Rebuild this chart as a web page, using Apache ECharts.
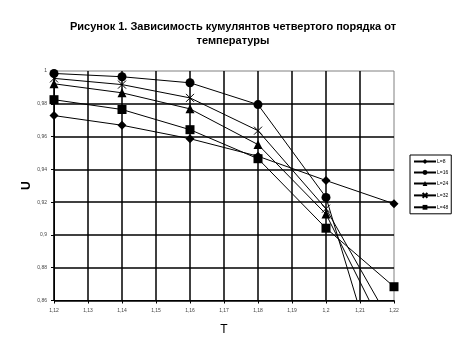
<!DOCTYPE html>
<html>
<head>
<meta charset="utf-8">
<script src="https://cdn.jsdelivr.net/npm/echarts@6/dist/echarts.min.js"></script>
<style>html,body{margin:0;padding:0;background:#fff}#c{width:466px;height:356px}</style>
</head>
<body>
<div id="c"></div>
<script>
const temps = [1.12, 1.14, 1.16, 1.18, 1.20, 1.22];
const seriesNames = ['L=8', 'L=16', 'L=24', 'L=32', 'L=48'];
const uL8  = [0.9728, 0.9669, 0.9587, 0.9480, 0.9332, 0.9190];
const uL16 = [0.9985, 0.9965, 0.9928, 0.9795, 0.9229, 0.7850];
const uL24 = [0.9922, 0.9867, 0.9769, 0.9551, 0.9127, 0.8300];
const uL32 = [0.9955, 0.9917, 0.9836, 0.9636, 0.9160, 0.8430];
const uL48 = [0.9825, 0.9765, 0.9642, 0.9465, 0.9041, 0.8684];
const titleText = 'Рисунок 1. Зависимость кумулянтов четвертого порядка от\nтемпературы';

const values = [uL8, uL16, uL24, uL32, uL48];
const symbols = ['diamond', 'circle', 'triangle', 'path://M0,0L10,10M10,0L0,10', 'rect'];
const sizes = [9, 9, 9, 8, 9];
const fmt = v => String(+v.toFixed(2)).replace('.', ',');

const chart = echarts.init(document.getElementById('c'), null, {renderer: 'canvas'});
chart.setOption({
  animation: false,
  backgroundColor: '#fff',
  title: {
    text: titleText,
    left: 'center',
    top: 15,
    textStyle: {fontFamily: 'Liberation Sans, Arial', fontSize: 11, fontWeight: 'bold', color: '#000', lineHeight: 14}
  },
  legend: {
    orient: 'vertical',
    left: 410,
    top: 155,
    padding: [4, 3, 4, 3],
    itemWidth: 22,
    itemHeight: 6,
    itemGap: 6,
    borderColor: '#000',
    borderWidth: 1,
    data: seriesNames,
    textStyle: {fontFamily: 'Liberation Sans, Arial', fontSize: 5, color: '#000', padding: [0, 0, 0, -4]}
  },
  grid: {
    left: 54, right: 72, top: 71, bottom: 55.5,
    show: true, borderColor: '#808080', borderWidth: 1, containLabel: false
  },
  xAxis: {
    type: 'value', min: 1.12, max: 1.22, interval: 0.01,
    name: 'T', nameLocation: 'middle', nameGap: 23, nameMoveOverlap: false,
    nameTextStyle: {fontFamily: 'Liberation Sans, Arial', fontSize: 12, color: '#000'},
    axisLine: {show: true, lineStyle: {color: '#000', width: 1}},
    axisTick: {show: true, length: 3, lineStyle: {color: '#000'}},
    axisLabel: {formatter: fmt, fontSize: 5, color: '#444', margin: 8, fontFamily: 'Liberation Sans, Arial'},
    splitLine: {show: true, showMaxLine: false, lineStyle: {color: '#000', width: 1.5}}
  },
  yAxis: {
    type: 'value', min: 0.86, max: 1, interval: 0.02,
    name: 'U', nameLocation: 'middle', nameGap: 21, nameRotate: 90, nameMoveOverlap: false,
    nameTextStyle: {fontFamily: 'Liberation Sans, Arial', fontSize: 12, fontWeight: 'bold', color: '#000'},
    axisLine: {show: true, lineStyle: {color: '#000', width: 1}},
    axisTick: {show: true, length: 3, lineStyle: {color: '#000'}},
    axisLabel: {formatter: fmt, fontSize: 5, color: '#444', margin: 7, fontFamily: 'Liberation Sans, Arial'},
    splitLine: {show: true, showMaxLine: false, lineStyle: {color: '#000', width: 1.5}}
  },
  series: seriesNames.map((name, i) => ({
    name: name,
    type: 'line',
    data: temps.map((t, j) => [t, values[i][j]]),
    symbol: symbols[i],
    symbolSize: sizes[i],
    showAllSymbol: true,
    clip: true,
    lineStyle: {color: '#000', width: 1},
    itemStyle: {color: '#000', borderColor: '#000', borderWidth: i === 3 ? 1 : 0},
    emphasis: {disabled: true}
  }))
});
</script>
</body>
</html>
